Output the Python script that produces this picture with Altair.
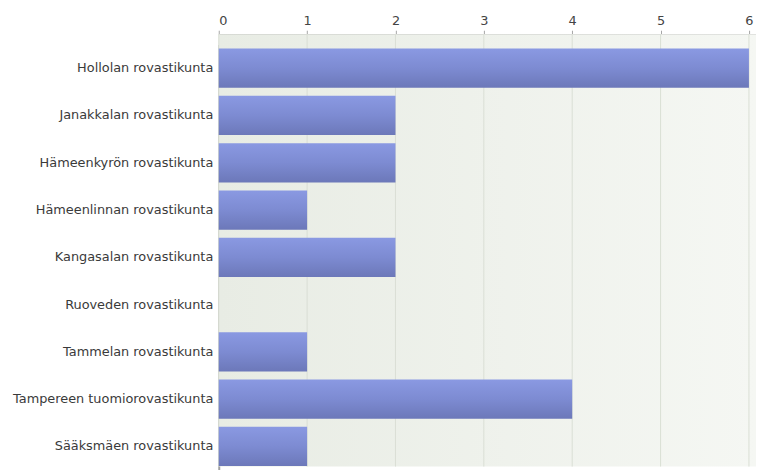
import altair as alt
import pandas as pd

categories = [
    "Hollolan rovastikunta",
    "Janakkalan rovastikunta",
    "Hämeenkyrön rovastikunta",
    "Hämeenlinnan rovastikunta",
    "Kangasalan rovastikunta",
    "Ruoveden rovastikunta",
    "Tammelan rovastikunta",
    "Tampereen tuomiorovastikunta",
    "Sääksmäen rovastikunta",
]
values = [6, 2, 2, 1, 2, 0, 1, 4, 1]
tick_values = [0, 1, 2, 3, 4, 5, 6]

df = pd.DataFrame({"cat": categories, "val": values})
ticks_df = pd.DataFrame({"t": tick_values})

bar_gradient = alt.Gradient(
    gradient="linear",
    x1=0, x2=0, y1=0, y2=1,
    stops=[
        alt.GradientStop(color="#8a99e2", offset=0),
        alt.GradientStop(color="#7d8bd2", offset=0.5),
        alt.GradientStop(color="#6c78b9", offset=1),
    ],
)

bg_gradient = alt.Gradient(
    gradient="linear",
    x1=0, x2=1, y1=0, y2=0,
    stops=[
        alt.GradientStop(color="#e8ece4", offset=0),
        alt.GradientStop(color="#f5f7f3", offset=1),
    ],
)

FONT = "DejaVu Sans"

x_scale = alt.Scale(domain=[0, 6.08], nice=False, zero=True)

bg = (
    alt.Chart(pd.DataFrame({"k": [0]}))
    .mark_rect(color=bg_gradient)
    .encode(
        x=alt.value(0),
        x2=alt.value("width"),
        y=alt.value(0),
        y2=alt.value("height"),
    )
)

grid = (
    alt.Chart(ticks_df)
    .mark_rule(color="#dadfd5", strokeWidth=1)
    .encode(x=alt.X("t:Q", scale=x_scale))
)

bars = (
    alt.Chart(df)
    .mark_bar(color=bar_gradient, strokeWidth=0)
    .encode(
        x=alt.X(
            "val:Q",
            scale=x_scale,
            axis=alt.Axis(
                orient="top",
                values=tick_values,
                format="d",
                title=None,
                grid=False,
                domainColor="#a5a5a5",
                domainWidth=1.5,
                tickColor="#a5a5a5",
                tickSize=4,
                labelPadding=3,
                labelFont=FONT,
                labelFontSize=13,
                labelColor="#444444",
            ),
        ),
        y=alt.Y(
            "cat:N",
            sort=categories,
            scale=alt.Scale(range=[10.5, 440.5], paddingInner=0.17, paddingOuter=0.085),
            axis=alt.Axis(
                title=None,
                ticks=False,
                grid=False,
                domainColor="#a0a0a0",
                domainWidth=2,
                labelPadding=6,
                labelFont=FONT,
                labelFontSize=13,
                labelColor="#3a3a3a",
                labelLimit=400,
            ),
        ),
    )
)

chart = (
    alt.layer(bg, grid, bars)
    .properties(
        width=756,
        height=462,
        autosize=alt.AutoSizeParams(type="fit", contains="padding"),
        padding={"left": 4, "top": 4, "right": 0, "bottom": 0},
    )
    .configure_view(stroke=None)
)

chart.save("out.html", embed_options={"renderer": "svg", "actions": False})
